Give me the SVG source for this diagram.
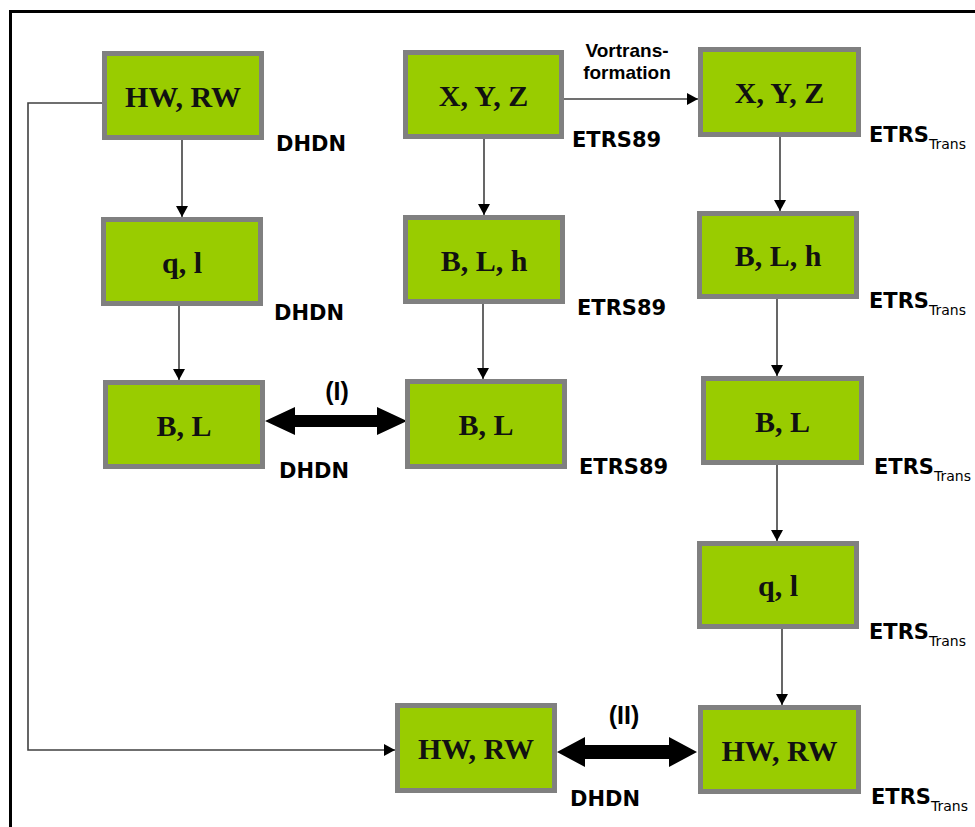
<svg xmlns="http://www.w3.org/2000/svg" width="975" height="827" viewBox="0 0 975 827">
<style>
.box{fill:#99cc00;stroke:#808080;stroke-width:5}
.bt{font-family:"Liberation Serif","Times New Roman",serif;font-weight:bold;font-size:30px;fill:#111;text-anchor:middle}
.lb{font-family:"DejaVu Sans","Verdana",sans-serif;font-weight:bold;font-size:21px;fill:#000}
.sub{font-family:"DejaVu Sans","Verdana",sans-serif;font-weight:normal;font-size:14px}
.cn{fill:none;stroke:#404040;stroke-width:1.6}
.dbl{fill:#000}
.rl{font-family:"Liberation Sans",Arial,sans-serif;font-weight:bold;font-size:25px;fill:#000;text-anchor:middle}
.vt{font-family:"Liberation Sans",Arial,sans-serif;font-weight:bold;font-size:19px;fill:#000;text-anchor:middle}
</style>
<defs>
<marker id="ah" markerUnits="userSpaceOnUse" markerWidth="11" markerHeight="12" refX="11" refY="6" orient="auto">
<path d="M0,0 L11,6 L0,12 z" fill="#000"/>
</marker>
</defs>
<rect x="0" y="0" width="975" height="827" fill="#fff"/>
<path d="M10.5,827 V11.5 H975" fill="none" stroke="#000" stroke-width="3"/>

<g id="connectors">
<line class="cn" x1="182" y1="140" x2="182" y2="217" marker-end="url(#ah)"/>
<line class="cn" x1="179" y1="306" x2="179" y2="380" marker-end="url(#ah)"/>
<line class="cn" x1="484" y1="139" x2="484" y2="215" marker-end="url(#ah)"/>
<line class="cn" x1="483" y1="304" x2="483" y2="379" marker-end="url(#ah)"/>
<line class="cn" x1="564" y1="99" x2="698" y2="99" marker-end="url(#ah)"/>
<line class="cn" x1="780" y1="137" x2="780" y2="211" marker-end="url(#ah)"/>
<line class="cn" x1="777" y1="299" x2="777" y2="376" marker-end="url(#ah)"/>
<line class="cn" x1="777" y1="465" x2="777" y2="541" marker-end="url(#ah)"/>
<line class="cn" x1="782" y1="629" x2="782" y2="705" marker-end="url(#ah)"/>
<polyline class="cn" points="102,103 28,103 28,750 395,750" marker-end="url(#ah)"/>
<polygon class="dbl" points="265,421 295,407 295,415 377,415 377,407 407,421 377,435 377,427 295,427 295,435"/>
<polygon class="dbl" points="557,752 585,737 585,745 669,745 669,737 697,752 669,767 669,759 585,759 585,767"/>
<text class="rl" x="337" y="400">(I)</text>
<text class="rl" x="624" y="724">(II)</text>
<text class="vt" x="627" y="57">Vortrans-</text>
<text class="vt" x="627" y="79">formation</text>
</g>

<g id="n1"><rect class="box" x="104.5" y="53.5" width="157" height="84"/><text class="bt" x="183" y="106.5">HW, RW</text><text class="lb" x="276" y="151">DHDN</text></g>
<g id="n2"><rect class="box" x="103.5" y="219.5" width="157" height="84"/><text class="bt" x="182" y="272.5">q, l</text><text class="lb" x="274" y="320">DHDN</text></g>
<g id="n3"><rect class="box" x="105.5" y="382.5" width="157" height="84"/><text class="bt" x="184" y="435.5">B, L</text><text class="lb" x="279" y="478">DHDN</text></g>
<g id="n4"><rect class="box" x="405.5" y="52.5" width="156" height="84"/><text class="bt" x="483.5" y="105.5">X, Y, Z</text><text class="lb" x="572" y="147">ETRS89</text></g>
<g id="n5"><rect class="box" x="405.5" y="217.5" width="157" height="84"/><text class="bt" x="484" y="270.5">B, L, h</text><text class="lb" x="577" y="315">ETRS89</text></g>
<g id="n6"><rect class="box" x="407.5" y="381.5" width="157" height="85"/><text class="bt" x="486" y="435">B, L</text><text class="lb" x="579" y="474">ETRS89</text></g>
<g id="n7"><rect class="box" x="700.5" y="49.5" width="158" height="85"/><text class="bt" x="779.5" y="103">X, Y, Z</text><text class="lb" x="869" y="142">ETRS<tspan class="sub" dy="7">Trans</tspan></text></g>
<g id="n8"><rect class="box" x="699.5" y="213.5" width="157" height="83"/><text class="bt" x="778" y="266">B, L, h</text><text class="lb" x="869" y="308">ETRS<tspan class="sub" dy="7">Trans</tspan></text></g>
<g id="n9"><rect class="box" x="703.5" y="378.5" width="158" height="84"/><text class="bt" x="782.5" y="431.5">B, L</text><text class="lb" x="874" y="474">ETRS<tspan class="sub" dy="7">Trans</tspan></text></g>
<g id="n10"><rect class="box" x="699.5" y="543.5" width="157" height="83"/><text class="bt" x="778" y="596">q, l</text><text class="lb" x="869" y="639">ETRS<tspan class="sub" dy="7">Trans</tspan></text></g>
<g id="n11"><rect class="box" x="397.5" y="705.5" width="157" height="85"/><text class="bt" x="476" y="759">HW, RW</text><text class="lb" x="570" y="806">DHDN</text></g>
<g id="n12"><rect class="box" x="700.5" y="707.5" width="158" height="84"/><text class="bt" x="779.5" y="760.5">HW, RW</text><text class="lb" x="871" y="804">ETRS<tspan class="sub" dy="7">Trans</tspan></text></g>
</svg>
